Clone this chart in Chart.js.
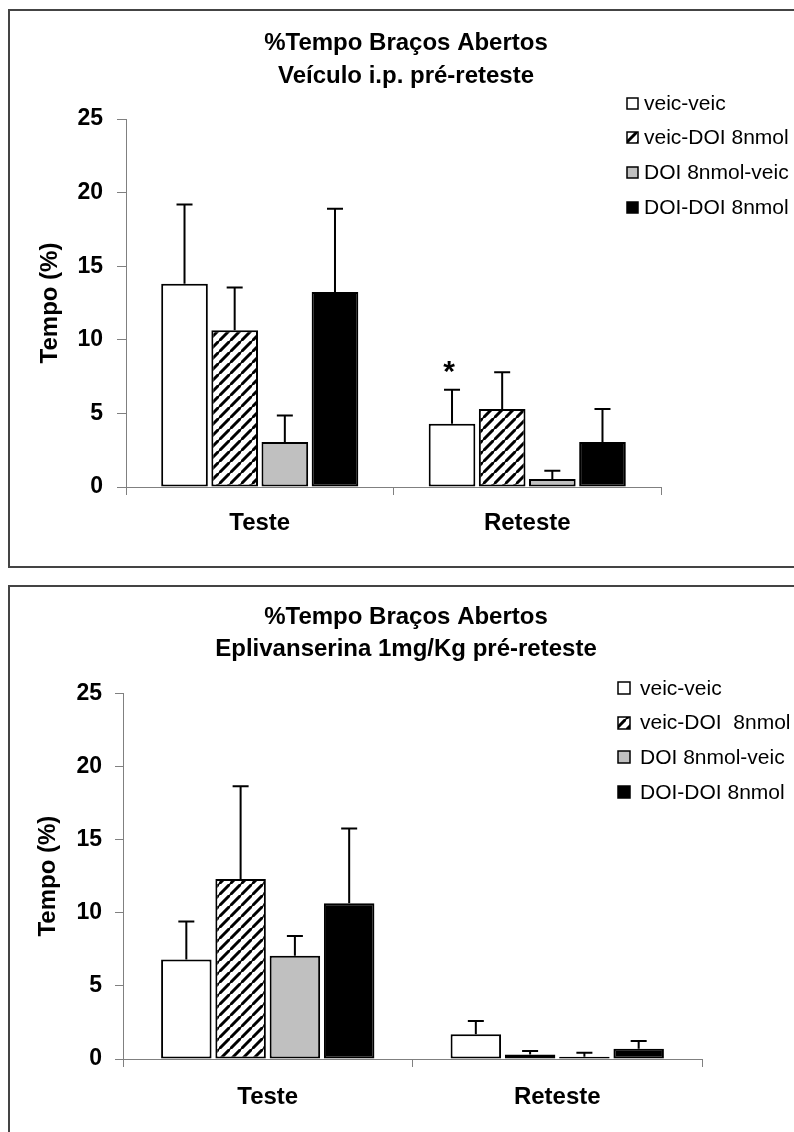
<!DOCTYPE html>
<html>
<head>
<meta charset="utf-8">
<script src="https://cdn.jsdelivr.net/npm/chart.js@4.4.0/dist/chart.umd.min.js"></script>
<style>
  html, body { margin: 0; padding: 0; background: #fff; width: 794px; height: 1132px; overflow: hidden; position: relative; }
  .panel { position: absolute; left: 8px; border: 2px solid #444; background: #fff; }
  .panel canvas { display: block; }
</style>
</head>
<body>
<div class="panel" style="top:9px;"><canvas id="chartTop" width="792" height="555" style="width:792px;height:555px"></canvas></div>
<div class="panel" style="top:585px;"><canvas id="chartBottom" width="792" height="560" style="width:792px;height:560px"></canvas></div>
<script>
// DATA
const categories = ['Teste', 'Reteste'];
const titleTop = ['%Tempo Braços Abertos', 'Veículo i.p. pré-reteste'];
const titleBottom = ['%Tempo Braços Abertos', 'Eplivanserina 1mg/Kg pré-reteste'];
const groupsTop = ['veic-veic', 'veic-DOI 8nmol', 'DOI 8nmol-veic', 'DOI-DOI 8nmol'];
const groupsBottom = ['veic-veic', 'veic-DOI  8nmol', 'DOI 8nmol-veic', 'DOI-DOI 8nmol'];
const yTitle = 'Tempo (%)';
const yMin = 0, yMax = 25, yStep = 5;

// top panel: vehicle i.p. before retest
const veicVeicTop = [13.8, 4.3];
const veicDoiTop  = [10.65, 5.3];
const doiVeicTop  = [3.05, 0.55];
const doiDoiTop   = [13.25, 3.05];
const semVeicVeicTop = [5.4, 2.3];
const semVeicDoiTop  = [2.9, 2.5];
const semDoiVeicTop  = [1.8, 0.55];
const semDoiDoiTop   = [5.65, 2.25];
const starsTop = [{ series: 0, index: 1 }];

// bottom panel: eplivanserin 1mg/kg before retest
const veicVeicBottom = [6.8, 1.7];
const veicDoiBottom  = [12.3, 0.3];
const doiVeicBottom  = [7.05, 0.15];
const doiDoiBottom   = [10.65, 0.7];
const semVeicVeicBottom = [2.6, 0.9];
const semVeicDoiBottom  = [6.35, 0.25];
const semDoiVeicBottom  = [1.35, 0.28];
const semDoiDoiBottom   = [5.1, 0.53];

const FONT = "'Liberation Sans', Arial, sans-serif";

const Core = {
    init() {
        Chart.defaults.font.family = FONT;
        Chart.defaults.color = '#000';
        this.hatch = this.makeHatch();
        this.build('chartTop', {
            title: titleTop, groups: groupsTop,
            series: [veicVeicTop, veicDoiTop, doiVeicTop, doiDoiTop],
            sem: [semVeicVeicTop, semVeicDoiTop, semDoiVeicTop, semDoiDoiTop],
            stars: starsTop,
            titlePad: { top: 15.5, bottom: 26.5 }, titleLine: 1.375,
            right: 141, yWidth: 116, yTickLen: 9, yPad: 14, yTitlePad: 26,
            xHeight: 79, xPad: 13.6,
            legend: { x: 617, y: 92, gap: 34.7, box: 11, textX: 17 }
        });
        this.build('chartBottom', {
            title: titleBottom, groups: groupsBottom,
            series: [veicVeicBottom, veicDoiBottom, doiVeicBottom, doiDoiBottom],
            sem: [semVeicVeicBottom, semVeicDoiBottom, semDoiVeicBottom, semDoiDoiBottom],
            stars: [],
            titlePad: { top: 14.5, bottom: 27.8 }, titleLine: 1.333,
            right: 100, yWidth: 113, yTickLen: 8, yPad: 13, yTitlePad: 24,
            xHeight: 88, xPad: 15.6,
            legend: { x: 608, y: 101, gap: 34.7, box: 12, textX: 22 }
        });
    },

    // diagonal "/" stripes for the veic-DOI group
    makeHatch() {
        const c = document.createElement('canvas');
        c.width = 11; c.height = 11;
        const g = c.getContext('2d');
        g.fillStyle = '#fff';
        g.fillRect(0, 0, 11, 11);
        g.strokeStyle = '#000';
        g.lineWidth = 3;
        g.beginPath();
        g.moveTo(-2, 13); g.lineTo(13, -2);
        g.moveTo(-8, 7); g.lineTo(7, -8);
        g.moveTo(4, 19); g.lineTo(19, 4);
        g.stroke();
        return g.createPattern(c, 'repeat');
    },

    fills() { return ['#ffffff', this.hatch, '#c0c0c0', '#000000']; },

    // ERROR BARS (upper only) + significance star
    errorBars: {
        id: 'errorBars',
        afterDatasetsDraw(chart, args, opts) {
            const ctx = chart.ctx, y = chart.scales.y;
            ctx.save();
            ctx.strokeStyle = '#000';
            ctx.lineWidth = 2;
            chart.data.datasets.forEach((ds, i) => {
                chart.getDatasetMeta(i).data.forEach((bar, j) => {
                    const top = y.getPixelForValue(ds.data[j] + ds.sem[j]);
                    ctx.beginPath();
                    ctx.moveTo(bar.x, bar.y);
                    ctx.lineTo(bar.x, top);
                    ctx.moveTo(bar.x - 8, top);
                    ctx.lineTo(bar.x + 8, top);
                    ctx.stroke();
                    if ((opts.stars || []).some(s => s.series === i && s.index === j)) {
                        ctx.fillStyle = '#000';
                        ctx.font = `bold 30px ${FONT}`;
                        ctx.textAlign = 'center';
                        ctx.textBaseline = 'alphabetic';
                        ctx.fillText('*', bar.x - 3, top - 9);
                    }
                });
            });
            ctx.restore();
        }
    },

    // FLOATING LEGEND (overlaps the plot area like the original)
    sideLegend: {
        id: 'sideLegend',
        afterDraw(chart, args, opts) {
            const ctx = chart.ctx;
            ctx.save();
            ctx.font = `21px ${FONT}`;
            ctx.textBaseline = 'middle';
            ctx.textAlign = 'left';
            chart.data.datasets.forEach((ds, i) => {
                const cy = opts.y + i * opts.gap;
                const bx = opts.x, by = Math.round(cy - opts.box / 2);
                ctx.fillStyle = ds.backgroundColor;
                ctx.fillRect(bx, by, opts.box, opts.box);
                ctx.strokeStyle = '#000';
                ctx.lineWidth = 1.5;
                ctx.strokeRect(bx, by, opts.box, opts.box);
                ctx.fillStyle = '#000';
                ctx.fillText(ds.label, bx + opts.textX, cy + 1);
            });
            ctx.restore();
        }
    },

    build(id, cfg) {
        const fills = this.fills();
        const datasets = cfg.series.map((vals, i) => ({
            label: cfg.groups[i],
            data: vals,
            sem: cfg.sem[i],
            backgroundColor: fills[i],
            borderColor: '#000',
            borderWidth: 2,
            borderSkipped: false,
            categoryPercentage: 0.75,
            barPercentage: 0.93
        }));
        new Chart(document.getElementById(id), {
            type: 'bar',
            data: { labels: categories, datasets },
            plugins: [this.errorBars, this.sideLegend],
            options: {
                responsive: false,
                animation: false,
                devicePixelRatio: 1,
                layout: { padding: 0 },
                plugins: {
                    legend: { display: false },
                    tooltip: { enabled: false },
                    title: {
                        display: true,
                        text: cfg.title,
                        color: '#000',
                        font: { size: 24, weight: 'bold', lineHeight: cfg.titleLine },
                        padding: cfg.titlePad
                    },
                    errorBars: { stars: cfg.stars },
                    sideLegend: cfg.legend
                },
                scales: {
                    x: {
                        afterFit: s => { s.height = cfg.xHeight; },
                        grid: { offset: true, drawOnChartArea: false, drawTicks: true, tickLength: 8, color: '#808080', lineWidth: 1 },
                        border: { color: '#808080', width: 1 },
                        ticks: { color: '#000', font: { size: 24, weight: 'bold' }, padding: cfg.xPad, maxRotation: 0 }
                    },
                    y: {
                        min: yMin, max: yMax,
                        afterFit: s => { s.width = cfg.yWidth; },
                        grid: { drawOnChartArea: false, drawTicks: true, tickLength: cfg.yTickLen, color: '#808080', lineWidth: 1 },
                        border: { color: '#808080', width: 1 },
                        ticks: { stepSize: yStep, color: '#000', font: { size: 23, weight: 'bold' }, padding: cfg.yPad },
                        title: {
                            display: true, text: yTitle, color: '#000',
                            font: { size: 24, weight: 'bold' },
                            padding: { top: cfg.yTitlePad, bottom: 0 }
                        }
                    },
                    // empty right-hand box: keeps the plot narrow while the title stays centred on the whole panel
                    room: {
                        type: 'linear', position: 'right',
                        afterFit: s => { s.width = cfg.right; },
                        grid: { display: false },
                        border: { display: false },
                        ticks: { display: false }
                    }
                }
            }
        });
    }
};

window.onload = () => Core.init();
</script>
</body>
</html>
